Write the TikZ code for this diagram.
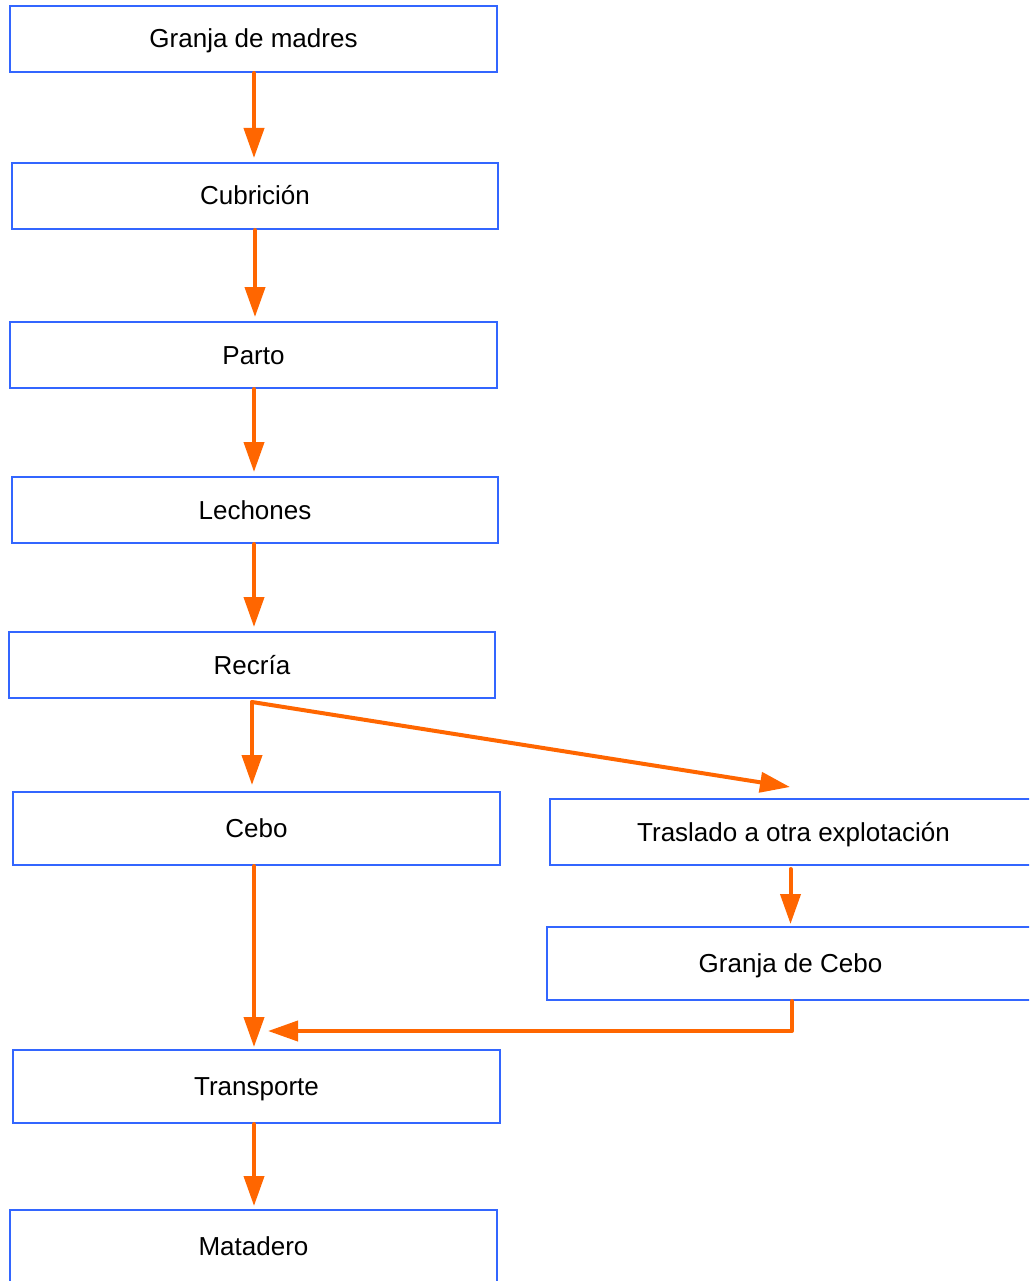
\documentclass[tikz,border=0pt]{standalone}
\usepackage{fontspec}
\setmainfont{Liberation Sans}
\usetikzlibrary{arrows.meta}
\definecolor{boxblue}{HTML}{3366FF}
\definecolor{arrorange}{HTML}{FF6600}
\begin{document}
\begin{tikzpicture}[x=1pt,y=-1pt,
  stepbox/.style={draw=boxblue,line width=2pt,fill=white,inner sep=0pt,
    text height=18pt,text depth=0pt,
    minimum width=487pt,minimum height=66pt,font=\fontsize{26pt}{30pt}\selectfont},
  tallbox/.style={stepbox,minimum height=73pt},
  arr/.style={draw=arrorange,line width=4pt,line join=round,line cap=round,
    -{Triangle[length=30pt,width=20pt]}}]
\useasboundingbox (0,0) rectangle (1029,1281);
\clip (0,0) rectangle (1029,1281);
\fill[white] (0,0) rectangle (1029,1281);
\node[stepbox] (gm) at (253.5,39) {Granja de madres};
\node[stepbox,minimum width=486pt] (cub) at (255,196) {Cubrición};
\node[stepbox] (par) at (253.5,355) {Parto};
\node[stepbox,minimum width=486pt] (lec) at (255,510) {Lechones};
\node[stepbox,minimum width=486pt] (rec) at (252,665) {Recría};
\node[tallbox] (cebo) at (256.5,828.5) {Cebo};
\node[stepbox] (tras) at (793.5,832) {Traslado a otra explotación};
\node[tallbox] (gc) at (790.5,963.5) {Granja de Cebo};
\node[tallbox] (trans) at (256.5,1086.5) {Transporte};
\node[tallbox] (mat) at (253.5,1246.5) {Matadero};
\coordinate (r0) at (252,702);
\coordinate (tr) at (790,787);
\coordinate (c1) at (792,1031);
\coordinate (c2) at (268,1031);
\draw[arr,shorten >=4pt] ([xshift=0.5pt]gm.south) -- ([xshift=0.5pt]gm.south |- cub.north);
\draw[arr,shorten >=4pt] (cub.south) -- (cub.south |- par.north);
\draw[arr,shorten >=4pt] ([xshift=0.5pt]par.south) -- ([xshift=0.5pt]par.south |- lec.north);
\draw[arr,shorten >=4pt] ([xshift=-1pt]lec.south) -- ([xshift=-1pt]lec.south |- rec.north);
\draw[arr,shorten >=6pt] (r0) -- (r0 |- cebo.north);
\draw[arr] (r0) -- (tr);
\draw[arr,shorten >=2pt,shorten <=3pt] ([xshift=-3pt]tras.south) -- ([xshift=-3pt]tras.south |- gc.north);
\draw[arr,shorten >=2pt] ([xshift=-2.5pt]cebo.south) -- ([xshift=-2.5pt]cebo.south |- trans.north);
\draw[arr] ([xshift=1.5pt]gc.south) -- (c1) -- (c2);
\draw[arr,shorten >=3pt] ([xshift=-2.5pt]trans.south) -- ([xshift=-2.5pt]trans.south |- mat.north);
\end{tikzpicture}
\end{document}
